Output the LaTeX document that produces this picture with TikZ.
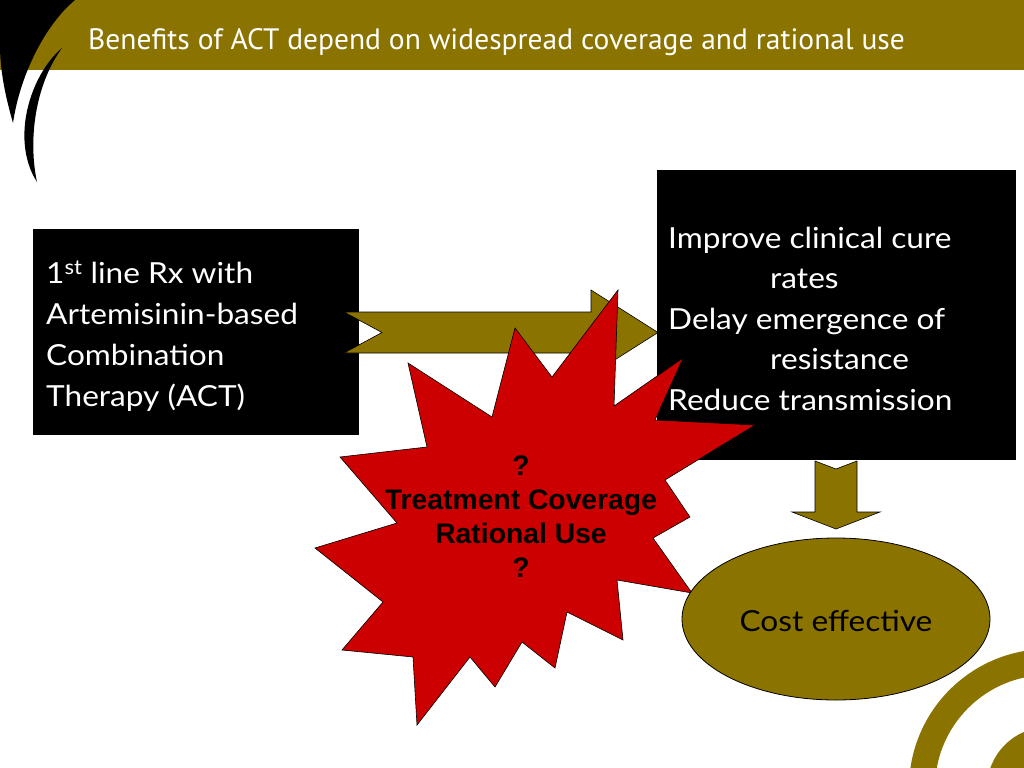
\documentclass[tikz,border=0pt]{standalone}
\usepackage{fontspec}
\setmainfont{Lato}[FakeStretch=1.09]
\newfontfamily\titlefont{PT Sans}
\newfontfamily\starfont{Liberation Sans}
\usetikzlibrary{shapes.geometric}
\definecolor{bandolive}{RGB}{139,115,0}
\definecolor{starred}{RGB}{204,0,0}
\tikzset{
  blackbox/.style={fill=black, draw=none},
  boxtext/.style={text=white, anchor=base west, inner sep=0pt, font=\fontsize{29bp}{40bp}\selectfont},
  blockarrow/.style={fill=bandolive, draw=black, line width=0.6bp, line join=miter},
  startext/.style={text=black, anchor=base, inner sep=0pt, font=\starfont\bfseries\fontsize{28.3bp}{34bp}\selectfont},
}
\begin{document}
\begin{tikzpicture}[x=1bp,y=-1bp]
\useasboundingbox (0,0) rectangle (1024,768);
\fill[white] (0,0) rectangle (1024,768);
% title band
\fill[bandolive] (0,0) rectangle (1024,70);
\fill[black] (0,0) -- (75,0) .. controls (45,25) and (20,75) .. (13,123)
  .. controls (5,95) and (0,70) .. (0,45) -- cycle;
\fill[black] (62,48) .. controls (30,75) and (10,140) .. (37,182)
  .. controls (28,140) and (35,85) .. (62,48) -- cycle;
\node[anchor=base west, text=white, inner sep=0pt, font=\titlefont\fontsize{29.5bp}{32bp}\selectfont] (title) at (88,50)
  {Benefits of ACT depend on widespread coverage and rational use};
% bottom-right rings
\fill[bandolive, even odd rule] (1048,788) circle[radius=139] (1048,788) circle[radius=113];
\fill[bandolive] (1048,788) circle[radius=61];
% left box
\node[blackbox, minimum width=326bp, minimum height=206bp, anchor=north west, inner sep=0pt] (leftbox) at (33,229) {};
\node[boxtext] (l1) at (46,283) {1\textsuperscript{st} line Rx with};
\node[boxtext] (l2) at (46,324) {Artemisinin-based};
\node[boxtext] (l3) at (46,365) {Combination};
\node[boxtext] (l4) at (46,406) {Therapy (ACT)};
% right block arrow
\draw[blockarrow] (344,312) -- (591,312) -- (591,290) -- (658,332.5) -- (591,375) -- (591,353) -- (344,353) -- (382,332.5) -- cycle;
% right box
\node[blackbox, minimum width=359bp, minimum height=290bp, anchor=north west, inner sep=0pt] (rightbox) at (657,170) {};
\node[boxtext] (r1) at (668,248) {Improve clinical cure};
\node[boxtext] (r2) at (770,288) {rates};
\node[boxtext] (r3) at (668,329) {Delay emergence of};
\node[boxtext] (r4) at (770,369) {resistance};
\node[boxtext] (r5) at (668,410) {Reduce transmission};
% star
\draw[fill=starred, draw=black, line width=0.6bp, line join=miter]
  (618,290) -- (614,406) -- (683,358) -- (655,420) -- (755,425) -- (665,480)
  -- (690,517) -- (653,538) -- (692,593) -- (617,580) -- (623,640) -- (567,612)
  -- (555,668) -- (522,642) -- (495,687) -- (470,657) -- (417,725) -- (413,657)
  -- (342,650) -- (383,602) -- (315,548) -- (397,523) -- (340,457) -- (427,447)
  -- (408,363) -- (492,417) -- (515,328) -- (552,377) -- cycle;
\node[startext] (s1) at (521,475) {?};
\node[startext] (s2) at (521,509) {Treatment Coverage};
\node[startext] (s3) at (521,543) {Rational Use};
\node[startext] (s4) at (521,577) {?};
% down block arrow
\draw[blockarrow] (815,461) -- (836,469) -- (857,461) -- (857,512) -- (880,512) -- (836,529) -- (792,512) -- (815,512) -- cycle;
% ellipse
\node[ellipse, fill=bandolive, draw=black, line width=0.8bp, minimum width=308bp, minimum height=162bp, inner sep=0pt] (cost) at (836,619) {};
\node[anchor=base, inner sep=0pt, font=\fontsize{29bp}{40bp}\selectfont] (costtext) at (836,631) {Cost effective};
\end{tikzpicture}
\end{document}
